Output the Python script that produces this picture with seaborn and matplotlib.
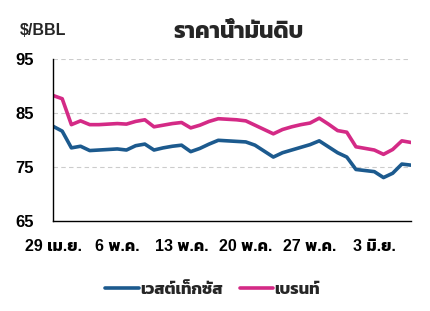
import matplotlib
matplotlib.use("Agg")
import matplotlib.pyplot as plt
import seaborn as sns
import pandas as pd
import numpy as np
from matplotlib.lines import Line2D

start_date = "2024-04-29"
wti = [82.6, 81.7, 78.6, 78.9, 78.1, 78.2, 78.3, 78.4, 78.2, 79.0,
       79.3, 78.2, 78.6, 78.9, 79.1, 77.9, 78.5, 79.3, 80.0, 79.9,
       79.8, 79.7, 79.1, 78.0, 76.9, 77.7, 78.2, 78.7, 79.2, 79.9,
       78.8, 77.7, 76.9, 74.6, 74.4, 74.2, 73.1, 73.9, 75.6, 75.4]
brent = [88.3, 87.7, 82.9, 83.6, 82.9, 82.9, 83.0, 83.1, 83.0, 83.5,
         83.8, 82.5, 82.8, 83.1, 83.3, 82.3, 82.8, 83.5, 84.0, 83.9,
         83.8, 83.6, 82.8, 82.0, 81.2, 82.0, 82.5, 82.9, 83.2, 84.1,
         83.0, 81.8, 81.5, 78.8, 78.5, 78.2, 77.4, 78.3, 79.9, 79.6]
series_names = ["เวสต์เท็กซัส", "เบรนท์"]
tick_dates = ["2024-04-29", "2024-05-06", "2024-05-13", "2024-05-20", "2024-05-27", "2024-06-03"]
tick_labels = ["29 เม.ย.", "6 พ.ค.", "13 พ.ค.", "20 พ.ค.", "27 พ.ค.", "3 มิ.ย."]
y_ticks = [65, 75, 85, 95]
title = "ราคาน้ำมันดิบ"
unit = "$/BBL"

dates = pd.date_range(start_date, periods=len(wti), freq="D")
df = pd.DataFrame({
    "date": np.concatenate([dates, dates]),
    "price": wti + brent,
    "series": [series_names[0]] * len(wti) + [series_names[1]] * len(brent),
})

sns.set_theme(style="white")
plt.rcParams["font.family"] = ["Liberation Sans", "Kanit"]
plt.rcParams["font.weight"] = "bold"

colors = {series_names[0]: "#1c5a8e", series_names[1]: "#d42a86"}

fig = plt.figure(figsize=(4.30, 3.11), dpi=100)
ax = fig.add_axes([0.1233, 0.2884, 0.8326, 0.5209])

sns.lineplot(data=df, x="date", y="price", hue="series", palette=colors,
             linewidth=2.6, ax=ax, legend=False)

ax.set_ylim(65, 95)
ax.set_xlim(pd.Timestamp(start_date), dates[-1])
ax.set_yticks(y_ticks)
ax.set_yticklabels([str(v) for v in y_ticks], fontsize=12, fontweight="bold")
ax.set_xticks([pd.Timestamp(d) for d in tick_dates])
ax.set_xticklabels(tick_labels, fontsize=11.5, fontweight="bold")
ax.set_xlabel("")
ax.set_ylabel("")

for v in y_ticks[1:]:
    ax.axhline(v, color="#cccccc", linestyle=(0, (4, 3)), linewidth=0.8, zorder=0)

for s in ["top", "right"]:
    ax.spines[s].set_visible(False)
for s in ["left", "bottom"]:
    ax.spines[s].set_color("black")
    ax.spines[s].set_linewidth(1.0)

ax.tick_params(axis="x", direction="out", length=5, width=1, color="black", pad=8, labelcolor="black")
ax.tick_params(axis="y", left=False, pad=8, labelcolor="black")

fig.text(0.045, 0.902, unit, fontsize=11.5, fontweight="bold", ha="left", va="center")
fig.text(0.555, 0.9, title, fontsize=16.5, fontweight="bold", ha="center", va="center")

handles = [Line2D([0], [0], color=colors[n], linewidth=2.6) for n in series_names]
fig.legend(handles, series_names, loc="center", bbox_to_anchor=(0.495, 0.07), ncol=2,
           frameon=False, handlelength=2.0, handletextpad=0.1,
           columnspacing=1.0, prop={"weight": "bold", "size": 12})

fig.savefig("out.png", dpi=100)
